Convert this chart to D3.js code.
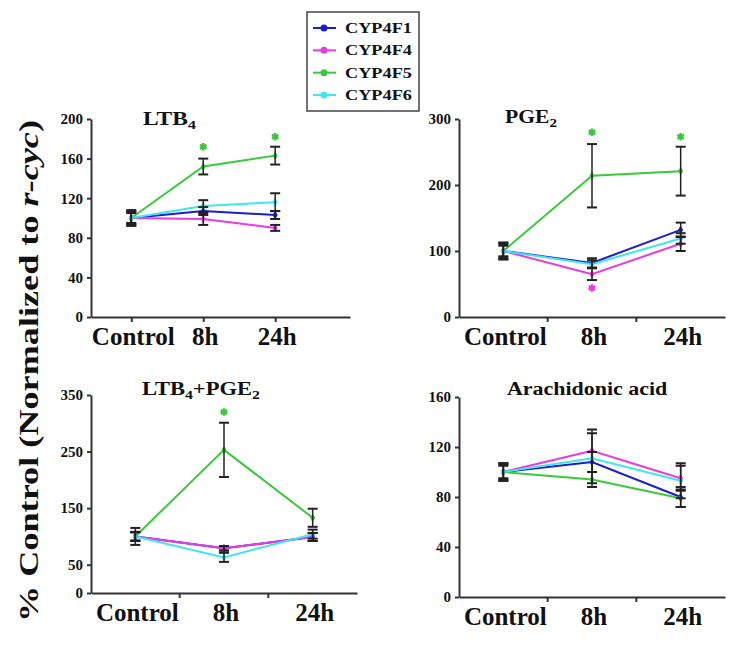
<!DOCTYPE html>
<html><head><meta charset="utf-8">
<script src="https://cdn.jsdelivr.net/npm/d3@7"></script>
<style>body{margin:0;background:#fff}svg{display:block}</style>
</head><body>
<svg id="c" width="750" height="661"></svg>
<script>
// ---------- data ----------
const categories = ["Control", "8h", "24h"];
const seriesNames = ["CYP4F1", "CYP4F4", "CYP4F5", "CYP4F6"];
const seriesColors = ["#1c1cd0", "#e83ce0", "#3cc83c", "#40e6ee"];

// rows follow seriesNames order
const ltb4Means  = [[100, 107, 103], [100, 99, 90], [100, 152, 163], [100, 112, 116]];
const ltb4Errors = [[6, 4, 4], [5, 6, 3], [8, 8, 9], [7, 6, 9]];
const ltb4Ticks  = [0, 40, 80, 120, 160, 200];
const ltb4Stars  = [[1, 2, 172], [2, 2, 182]];          // [category, series, y]

const pge2Means  = [[100, 82, 132], [100, 65, 111], [100, 214, 221], [100, 80, 119]];
const pge2Errors = [[12, 7, 11], [10, 9, 11], [13, 48, 37], [8, 6, 8]];
const pge2Ticks  = [0, 100, 200, 300];
const pge2Stars  = [[1, 2, 280], [1, 1, 44], [2, 2, 273]];

const bothMeans  = [[100, 79, 99], [100, 79, 99], [100, 253, 133], [100, 63, 104]];
const bothErrors = [[8, 4, 7], [15, 4, 7], [7, 48, 16], [8, 8, 8]];
const bothTicks  = [0, 50, 150, 250, 350];
const bothStars  = [[1, 2, 320]];

const aaMeans    = [[100, 108, 80], [100, 117, 95], [100, 94, 79], [100, 111, 93]];
const aaErrors   = [[7, 8, 8], [6, 17, 10], [5, 6, 7], [7, 20, 14]];
const aaTicks    = [0, 40, 80, 120, 160];
const aaStars    = [];

// ---------- drawing ----------
const svg = d3.select("#c");
const FONT = "'Liberation Serif','Times New Roman',serif";
const AXIS = "#333";

function fitWidth(sel, x0, target) {
  const w = sel.node().getBBox().width;
  sel.attr("transform", `translate(${x0},0) scale(${target / w},1) translate(${-x0},0)`);
}

function drawPanel(cfg) {
  const g = svg.append("g");
  const y = d3.scaleLinear().domain([0, cfg.ticks[cfg.ticks.length - 1]]).range([cfg.yBot, cfg.yTop]);
  let xPos;
  if (cfg.mode === "point") {
    const x = d3.scalePoint().domain(categories).range([cfg.x0, cfg.x1]).padding(0.8).align(0.35);
    xPos = c => x(c);
    const ax = g.append("g").attr("transform", `translate(0,${cfg.yBot})`)
      .call(d3.axisBottom(x).tickSize(5).tickSizeOuter(0).tickFormat(""));
    ax.selectAll("path,line").attr("stroke", AXIS).attr("stroke-width", 2);
    ax.selectAll("text").remove();
  } else {
    const x = d3.scaleBand().domain(categories).range([cfg.x0, cfg.x1]);
    xPos = c => x(c) + x.bandwidth() / 2;
    const ax = g.append("g").attr("transform", `translate(0,${cfg.yBot})`)
      .call(d3.axisBottom(x).tickSize(0).tickSizeOuter(0).tickFormat(""));
    ax.selectAll("path").attr("stroke", AXIS).attr("stroke-width", 2);
    ax.selectAll(".tick").remove();
    g.selectAll(".bt").data(categories.slice(1)).join("line")
      .attr("x1", c => x(c)).attr("x2", c => x(c))
      .attr("y1", cfg.yBot).attr("y2", cfg.yBot + 5)
      .attr("stroke", AXIS).attr("stroke-width", 2);
  }
  // y axis
  const ay = g.append("g").attr("transform", `translate(${cfg.x0},0)`)
    .call(d3.axisLeft(y).tickValues(cfg.ticks).tickSize(4).tickSizeOuter(0).tickPadding(4));
  ay.selectAll("path,line").attr("stroke", AXIS).attr("stroke-width", 2);
  ay.selectAll("text").attr("font-family", FONT).attr("font-weight", "bold")
    .attr("font-size", 15).attr("fill", "#111");

  // category labels
  g.selectAll(".cl").data(categories).join("text")
    .attr("x", c => xPos(c) + 2).attr("y", cfg.yBot + 28)
    .attr("text-anchor", "middle").attr("font-family", FONT)
    .attr("font-weight", "bold").attr("font-size", 25).attr("fill", "#111")
    .text(c => c);

  // title
  const t = g.append("text").attr("x", cfg.tx).attr("y", cfg.ty)
    .attr("font-family", FONT).attr("font-weight", "bold")
    .attr("font-size", cfg.tsize).attr("fill", "#111");
  let shift = 0;
  cfg.title.forEach(([s, sub]) => {
    const sp = t.append("tspan").text(s);
    if (sub) { sp.attr("font-size", cfg.tsize * 0.7).attr("dy", 4 - shift); shift = 4; }
    else if (shift) { sp.attr("dy", -shift); shift = 0; }
  });
  fitWidth(t, cfg.tx, cfg.tw);

  const line = d3.line().x((v, i) => xPos(categories[i])).y(v => y(v));
  // lines
  cfg.means.forEach((m, s) => {
    g.append("path").attr("d", line(m)).attr("fill", "none")
      .attr("stroke", seriesColors[s]).attr("stroke-width", 2);
  });
  // markers
  cfg.means.forEach((m, s) => {
    g.selectAll(null).data(m).join("path")
      .attr("transform", (v, i) => `translate(${xPos(categories[i])},${y(v)})`)
      .attr("d", d3.symbol(d3.symbolDiamond, 22))
      .attr("fill", seriesColors[s]);
  });
  // error bars
  cfg.means.forEach((m, s) => {
    m.forEach((v, i) => {
      const e = cfg.errs[s][i];
      const cx = xPos(categories[i]);
      const eg = g.append("g").attr("stroke", "#222");
      eg.append("line").attr("x1", cx).attr("x2", cx).attr("y1", y(v - e)).attr("y2", y(v + e)).attr("stroke-width", 1.5);
      [v - e, v + e].forEach(b => eg.append("line").attr("x1", cx - 5).attr("x2", cx + 5)
        .attr("y1", y(b)).attr("y2", y(b)).attr("stroke-width", 2));
    });
  });
  // significance stars
  g.selectAll(".st").data(cfg.stars).join("path")
    .attr("transform", d => `translate(${xPos(categories[d[0]])},${y(d[2])})`)
    .attr("d", d3.symbol(d3.symbolAsterisk, 40))
    .attr("fill", "none").attr("stroke", d => seriesColors[d[1]]).attr("stroke-width", 2.5);
}

drawPanel({ mode: "point", x0: 91, x1: 350, yBot: 317, yTop: 119, ticks: ltb4Ticks,
  means: ltb4Means, errs: ltb4Errors, stars: ltb4Stars,
  title: [["LTB"], ["4", true]], tx: 143, ty: 125, tsize: 18, tw: 54 });
drawPanel({ mode: "band", x0: 459, x1: 725, yBot: 317, yTop: 119, ticks: pge2Ticks,
  means: pge2Means, errs: pge2Errors, stars: pge2Stars,
  title: [["PGE"], ["2", true]], tx: 505, ty: 123, tsize: 18, tw: 52 });
drawPanel({ mode: "band", x0: 91, x1: 357, yBot: 593, yTop: 395, ticks: bothTicks,
  means: bothMeans, errs: bothErrors, stars: bothStars,
  title: [["LTB"], ["4", true], ["+PGE"], ["2", true]], tx: 142, ty: 395, tsize: 18, tw: 118 });
drawPanel({ mode: "band", x0: 459, x1: 725, yBot: 597, yTop: 397, ticks: aaTicks,
  means: aaMeans, errs: aaErrors, stars: aaStars,
  title: [["Arachidonic acid"]], tx: 507, ty: 395, tsize: 19, tw: 161 });

// y title
const yt = svg.append("g").attr("transform", "translate(38,622) rotate(-90)")
  .append("text").attr("x", 0).attr("y", 0)
  .attr("font-family", FONT).attr("font-weight", "bold").attr("font-size", 28).attr("fill", "#111");
yt.append("tspan").text("% Control (Normalized to ");
yt.append("tspan").attr("font-style", "italic").text("r-cyc");
yt.append("tspan").text(")");
fitWidth(yt, 0, 502);

// legend
const lg = svg.append("g");
lg.append("rect").attr("x", 307).attr("y", 12).attr("width", 112).attr("height", 99)
  .attr("fill", "#fff").attr("stroke", "#444").attr("stroke-width", 1.5);
const ly = d3.scalePoint().domain(seriesNames).range([28, 95]);
seriesNames.forEach((n, i) => {
  const yy = ly(n);
  lg.append("line").attr("x1", 313).attr("x2", 336).attr("y1", yy).attr("y2", yy)
    .attr("stroke", seriesColors[i]).attr("stroke-width", 2);
  lg.append("circle").attr("cx", 324).attr("cy", yy).attr("r", 3.5).attr("fill", seriesColors[i]);
  const tx = lg.append("text").attr("x", 345).attr("y", yy + 5)
    .attr("font-family", FONT).attr("font-weight", "bold").attr("font-size", 14)
    .attr("fill", "#111").text(n);
  fitWidth(tx, 345, 67);
});
</script>
</body></html>
